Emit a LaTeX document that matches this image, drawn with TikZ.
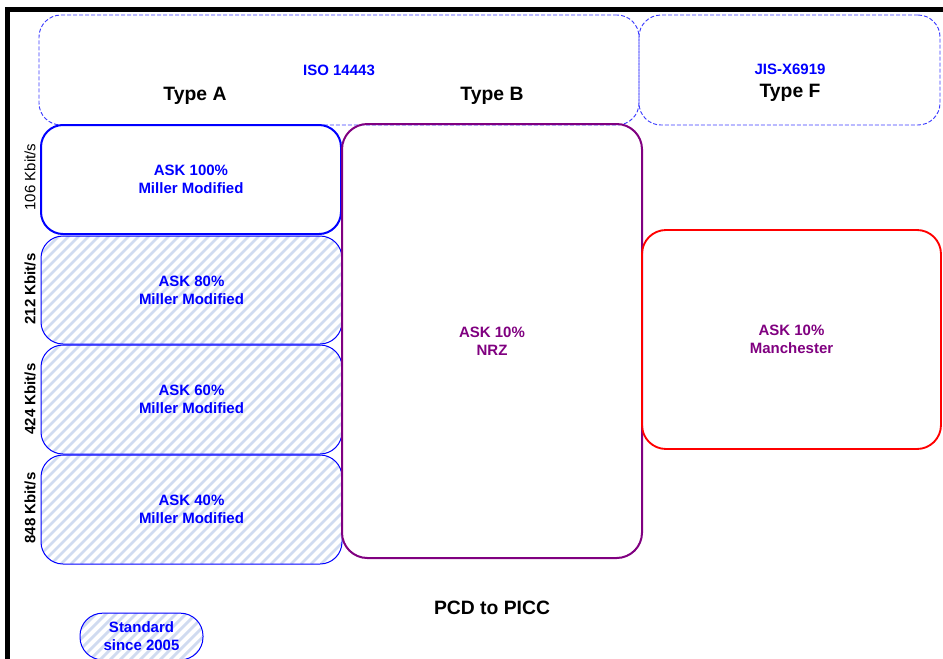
\documentclass[tikz,border=0pt]{standalone}
\usepackage{fontspec}
\setmainfont{Liberation Sans}
\definecolor{hatchc}{RGB}{208,219,240}
\definecolor{dashblue}{RGB}{60,60,255}
\definecolor{nfcpurple}{RGB}{128,0,128}
\definecolor{nfcblue}{RGB}{0,0,255}
\definecolor{nfcred}{RGB}{255,0,0}
\begin{document}
\begin{tikzpicture}[x=0.75pt,y=-0.75pt,
  rbox/.style={rectangle, rounded corners=16.5pt, inner sep=0pt, align=center},
  dashbox/.style={rbox, draw=dashblue, dash pattern=on 3pt off 1.5pt, line width=0.7pt},
  small/.style={font=\bfseries\fontsize{11.25}{13.5}\selectfont},
  smallreg/.style={font=\fontsize{11.25}{13.5}\selectfont},
  big/.style={font=\bfseries\fontsize{14.5}{17}\selectfont},
  hatched/.style={path picture={
    \foreach \k in {-14,...,32}
      \draw[hatchc, line width=2.1pt]
        ([xshift=\k*7.5pt]path picture bounding box.south west) -- ++(100pt,100pt);}},
  abox/.style={rbox, draw=nfcblue, text=nfcblue, small, minimum width=225pt},
]
\useasboundingbox (0,0) rectangle (943,658);

% frame
\draw[line width=3.6pt, line join=miter] (7.5,660) -- (7.5,9.8) -- (943,9.8);

% standard groups (dashed)
\node[dashbox, minimum width=450pt, minimum height=82.5pt, text=nfcblue, small] (iso) at (339,70) {ISO 14443};
\node[dashbox, minimum width=225.75pt, minimum height=82.5pt] (jis) at (789.5,70) {};
\node[small, text=nfcblue] (jist) at (790,69) {JIS-X6919};
\node[big] (tA) at (195,96) {Type A};
\node[big] (tB) at (492,96) {Type B};
\node[big] (tF) at (790,93) {Type F};

% Type A column
\node[abox, line width=1.5pt, minimum height=81.75pt] (a106) at (191,179.5) {ASK 100\%\\Miller Modified};
\node[abox, hatched, line width=0.75pt, minimum width=225.75pt, minimum height=81pt] (a212) at (191.5,290) {ASK 80\%\\Miller Modified};
\node[abox, hatched, line width=0.75pt, minimum width=225.75pt, minimum height=81.75pt] (a424) at (191.5,399.5) {ASK 60\%\\Miller Modified};
\node[abox, hatched, line width=0.75pt, minimum width=225.75pt, minimum height=81.75pt] (a848) at (191.5,509.5) {ASK 40\%\\Miller Modified};

% Type B
\node[rbox, draw=nfcpurple, text=nfcpurple, small, line width=1.5pt, minimum width=225pt, minimum height=325.5pt, rounded corners=19pt] (bnrz) at (492,341) {ASK 10\%\\NRZ};

% Type F
\node[rbox, draw=nfcred, text=nfcpurple, small, line width=1.4pt, minimum width=224.25pt, minimum height=164.25pt, rounded corners=18pt] (fman) at (791.5,339.5) {ASK 10\%\\Manchester};

% bit rates
\node[smallreg, rotate=90] (r106) at (30,177) {106 Kbit/s};
\node[small, rotate=90] (r212) at (30,289) {212 Kbit/s};
\node[small, rotate=90] (r424) at (30,399) {424 Kbit/s};
\node[small, rotate=90] (r848) at (30,508) {848 Kbit/s};

% direction
\node[big] (dir) at (492,608) {PCD to PICC};

% legend
\node[rbox, hatched, draw=nfcblue, text=nfcblue, small, line width=0.75pt, rounded corners=17pt, minimum width=92.25pt, minimum height=35pt] (leg) at (141.5,636.5) {Standard\\since 2005};
\end{tikzpicture}
\end{document}
